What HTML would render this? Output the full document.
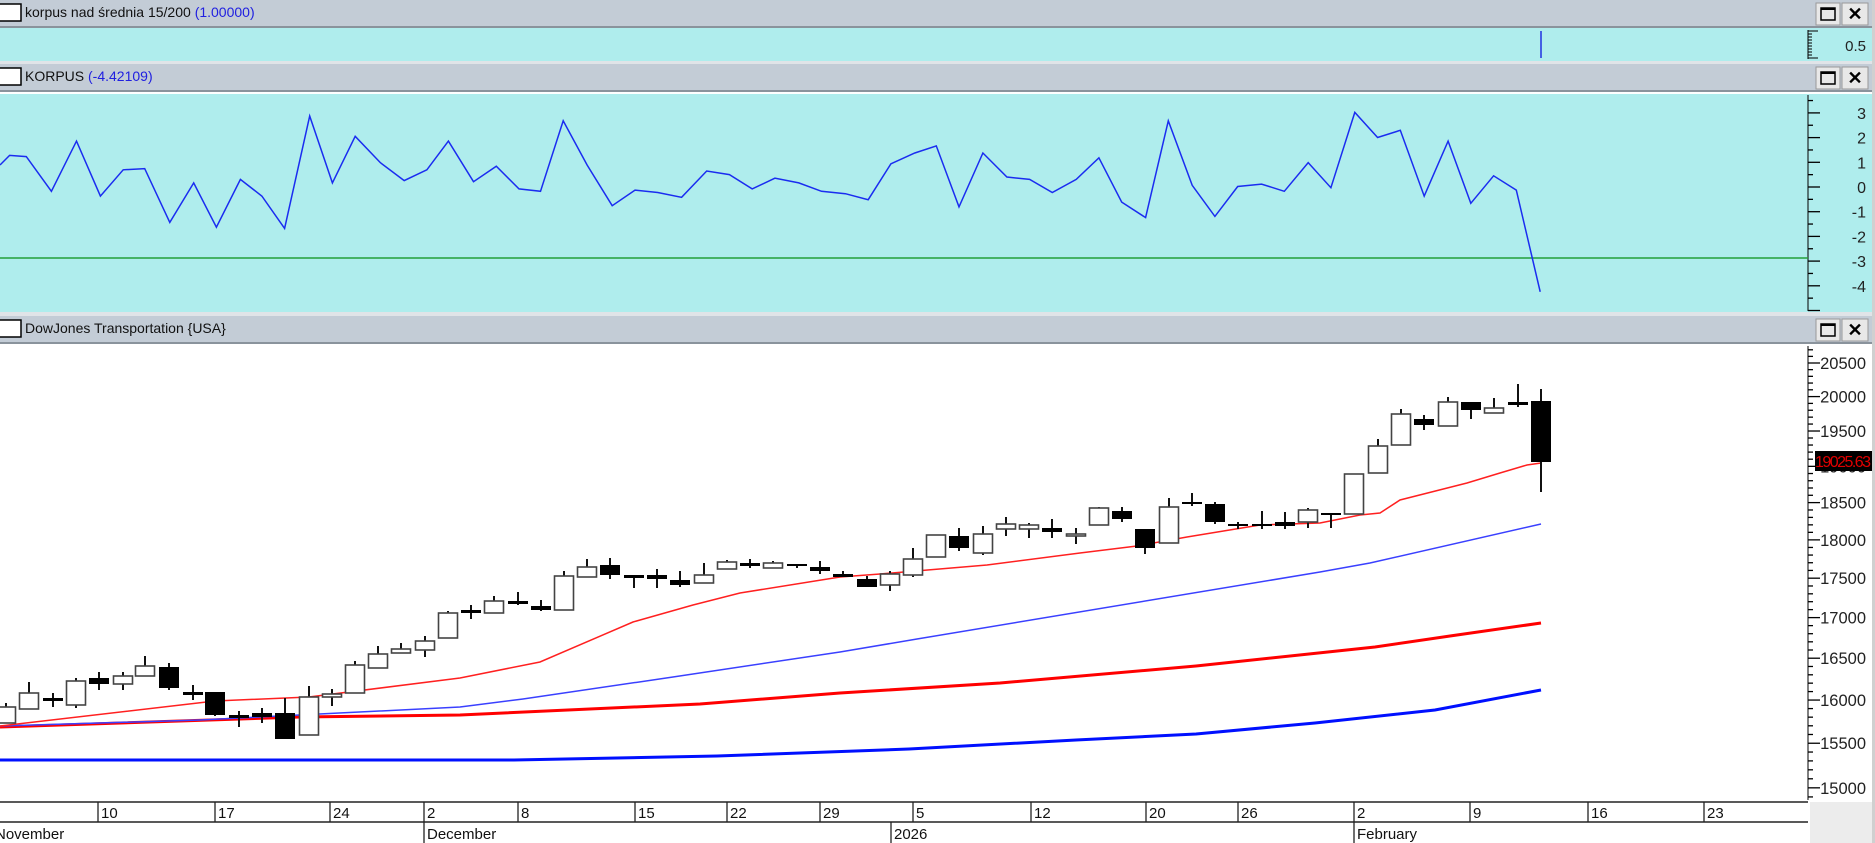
<!DOCTYPE html>
<html><head><meta charset="utf-8">
<style>
html,body{margin:0;padding:0;background:#fff;}
svg{display:block;font-family:"Liberation Sans",sans-serif;}
</style></head>
<body>
<svg id="s" width="1875" height="843" xmlns="http://www.w3.org/2000/svg"></svg>
<script>
const s=document.getElementById('s');let h='';
const C='#afeded',HB='#c3ccd6';
// headers
function header(y,title,val){
 h+=`<rect x="0" y="${y}" width="1875" height="28" fill="${HB}"/>`;
 h+=`<line x1="0" y1="${y+27}" x2="1875" y2="${y+27}" stroke="#8a939c" stroke-width="2"/>`;
 h+=`<rect x="-2" y="${y+4}" width="23" height="17" fill="#fff" stroke="#000" stroke-width="1.5"/>`;
 h+=`<text x="25" y="${y+17}" font-size="14" fill="#111">${title}<tspan fill="#2020e0">${val}</tspan></text>`;
 h+=`<rect x="1816" y="${y+3}" width="24" height="22" fill="#e8e8e8" stroke="#999"/><rect x="1821" y="${y+8}" width="14" height="12" fill="none" stroke="#000" stroke-width="1.5"/><line x1="1821" y1="${y+9}" x2="1835" y2="${y+9}" stroke="#000" stroke-width="2"/>`;
 h+=`<rect x="1842" y="${y+3}" width="26" height="22" fill="#e8e8e8" stroke="#999"/><text x="1855" y="${y+20}" font-size="18" font-weight="bold" text-anchor="middle">✕</text>`;
}
header(0,'korpus nad średnia 15/200 ',' (1.00000)');
h+=`<rect x="0" y="28" width="1872" height="33" fill="${C}"/>`;
h+=`<rect x="0" y="61" width="1875" height="3" fill="#e0e4e8"/>`;
header(64,'KORPUS ',' (-4.42109)');
h+=`<rect x="0" y="94" width="1872" height="218" fill="${C}"/>`;
h+=`<rect x="0" y="312" width="1875" height="4" fill="#e0e4e8"/>`;
header(316,'DowJones Transportation {USA}','');
h+=`<rect x="1872" y="0" width="3" height="843" fill="#d0d0d0"/>`;
// panel1
h+=`<line x1="1808" y1="30" x2="1808" y2="59" stroke="#000"/>`;
for(let y=31;y<=58;y+=3)h+=`<line x1="1808" y1="${y}" x2="${y==31||y==58?1818:1812}" y2="${y}" stroke="#000"/>`;
h+=`<text x="1866" y="51" font-size="15" text-anchor="end" fill="#222">0.5</text>`;
h+=`<line x1="1541" y1="31" x2="1541" y2="58" stroke="#2030e0" stroke-width="1.5"/>`;
// panel2 axis
h+=`<line x1="1808" y1="95" x2="1808" y2="311" stroke="#000"/>`;
for(let v=4;v>=-5;v-=0.5){const y=187-v*24.7;if(y<96||y>311)continue;const maj=Number.isInteger(v);h+=`<line x1="1808" y1="${y}" x2="${maj?1820:1813}" y2="${y}" stroke="#000" stroke-width="1.3"/>`;if(maj&&v<=3&&v>=-4)h+=`<text x="1866" y="${y+6}" font-size="16" text-anchor="end" fill="#222">${v}</text>`;}
h+=`<line x1="0" y1="258" x2="1808" y2="258" stroke="#22a03a" stroke-width="1.5"/>`;
const kd=[[0,138],[8,130],[22,131],[43,160],[64,118],[84,164],[103,142],[121,141],[142,186],[162,153],[181,190],[201,150],[219,164],[238,191],[259,97],[278,153],[297,114],[318,136],[338,151],[357,142],[375,118],[396,152],[415,139],[434,158],[452,160],[471,101],[491,138],[512,172],[531,159],[550,161],[570,165],[591,143],[610,146],[629,158],[648,149],[668,153],[687,160],[707,162],[726,167],[745,137],[765,128],[783,122],[802,173],[822,128],[842,148],[861,150],[880,161],[900,150],[919,132],[938,169],[958,182],[977,101],[997,155],[1016,181],[1035,156],[1055,154],[1074,160],[1094,136],[1113,157],[1133,94],[1152,115],[1171,109],[1191,164],[1211,118],[1230,170],[1249,147],[1268,159],[1288,244]];
h+=`<polyline fill="none" stroke="#1a2cf0" stroke-width="1.5" points="${kd.map(p=>(p[0]*1.1958).toFixed(1)+','+(p[1]*1.1957).toFixed(1)).join(' ')}"/>`;
// price axis
const py=p=>363+1360*Math.log(20500/p);
h+=`<line x1="1808" y1="346" x2="1808" y2="800" stroke="#000"/>`;
for(let p=14900;p<=20700;p+=100){const y=py(p);if(y<347||y>799)continue;const maj=p%500==0;h+=`<line x1="1808" y1="${y}" x2="${maj?1820:1813}" y2="${y}" stroke="#000" stroke-width="1.3"/>`;if(maj)h+=`<text x="1866" y="${y+6}" font-size="16.5" text-anchor="end" fill="#222">${p}</text>`;}
// MAs
const pl=(pts,c,w)=>h+=`<polyline fill="none" stroke="${c}" stroke-width="${w}" points="${pts.map(p=>p.join(',')).join(' ')}"/>`;
pl([[0,760],[144,760],[514,760],[717,756],[909,749],[1076,740],[1196,734],[1315,723],[1435,710],[1541,690]],'#0010ff',3);
pl([[0,727],[300,717],[460,715],[700,704],[840,693],[1000,683],[1196,666],[1375,647],[1450,636],[1541,623]],'#ff0000',3);
pl([[0,726],[200,720],[460,707],[523,699],[673,677],[840,652],[917,639],[1320,572],[1370,563],[1541,524]],'#3a40ff',1.5);
pl([[0,726],[215,701],[309,697],[460,678],[540,662],[633,622],[693,605],[740,593],[840,577],[880,574],[987,565],[1080,553],[1137,546],[1187,537],[1260,525],[1320,523],[1360,515],[1380,513],[1400,500],[1467,483],[1500,473],[1527,465],[1541,463]],'#ff2020',1.5);
// candles [x,wt,wb,bt,bb,filled]
const cd=[[6,703,723,707,723,0],[29,682,709,693,709,0],[53,693,707,698,701,1],[76,678,708,681,705,0],[99,672,690,678,684,1],[123,672,690,676,684,0],[145,656,676,666,676,0],[169,663,690,667,688,1],[193,685,700,692,695,1],[215,692,716,692,715,1],[239,711,727,715,718,1],[262,708,723,713,717,1],[285,698,739,713,739,1],[309,686,735,697,735,0],[332,689,706,694,697,0],[355,661,693,665,693,0],[378,646,668,654,668,0],[401,643,653,649,653,0],[425,636,657,641,650,0],[448,611,638,613,638,0],[471,605,619,610,613,1],[494,596,613,601,613,0],[518,592,605,601,604,1],[541,600,611,606,610,1],[564,571,610,576,610,0],[587,559,577,567,577,0],[610,558,579,565,575,1],[634,575,588,575,578,1],[657,569,588,575,579,1],[680,571,587,580,585,1],[704,563,583,575,583,0],[727,560,569,562,569,0],[750,559,568,563,566,1],[773,561,568,563,568,0],[797,564,568,564,566,1],[820,561,574,567,571,1],[843,571,577,574,577,1],[867,576,587,579,587,1],[890,571,591,574,585,0],[913,548,577,559,575,0],[936,535,557,535,557,0],[959,528,551,536,548,1],[983,526,555,534,553,0],[1006,517,536,524,529,0],[1029,523,538,525,529,0],[1052,519,538,528,532,1],[1076,528,544,534,536,0],[1099,507,525,508,525,0],[1122,507,522,511,519,1],[1145,529,554,529,548,1],[1169,498,543,507,543,0],[1192,493,506,502,504,1],[1215,502,524,504,522,1],[1238,522,529,524,526,1],[1262,511,529,524,526,1],[1285,512,529,522,526,1],[1308,508,528,510,522,0],[1331,513,528,513,515,1],[1354,474,514,474,514,0],[1378,439,473,446,473,0],[1401,409,445,414,445,0],[1424,415,430,419,425,1],[1448,397,426,402,426,0],[1471,402,419,402,410,1],[1494,398,413,408,413,0],[1518,384,407,402,405,1],[1541,389,492,401,462,1]];
for(const c of cd){const[x,wt,wb,bt,bb,f]=c;h+=`<line x1="${x}" y1="${wt}" x2="${x}" y2="${wb}" stroke="#111" stroke-width="2"/>`;const hh=Math.max(bb-bt,2);h+=f?`<rect x="${x-10}" y="${bt}" width="20" height="${hh}" fill="#000"/>`:`<rect x="${x-9.5}" y="${bt}" width="19" height="${hh}" fill="#fff" stroke="#444" stroke-width="1.6"/>`;}
// last price label
h+=`<rect x="1815" y="451" width="57" height="20" fill="#000"/><text x="1843" y="467" font-size="16" text-anchor="middle" fill="#e00000" textLength="56">19025.63</text>`;
// date axis
h+=`<rect x="1810" y="802" width="62" height="41" fill="#ececec"/>`;
h+=`<line x1="0" y1="802" x2="1808" y2="802" stroke="#222" stroke-width="1.5"/><line x1="0" y1="822" x2="1808" y2="822" stroke="#222" stroke-width="1.5"/>`;
const tk=[[98,'10'],[215,'17'],[330,'24'],[424,'2'],[518,'8'],[635,'15'],[727,'22'],[820,'29'],[913,'5'],[1031,'12'],[1146,'20'],[1238,'26'],[1354,'2'],[1470,'9'],[1588,'16'],[1704,'23']];
for(const[t,l]of tk){h+=`<line x1="${t}" y1="802" x2="${t}" y2="822" stroke="#222" stroke-width="1.3"/><text x="${t+3}" y="818" font-size="15" fill="#111">${l}</text>`;}
const mo=[[-8,'November'],[424,'December'],[891,'2026'],[1354,'February']];
for(const[t,l]of mo){h+=`<line x1="${t}" y1="822" x2="${t}" y2="843" stroke="#222" stroke-width="1.3"/><text x="${t+3}" y="839" font-size="15" fill="#111">${l}</text>`;}
s.innerHTML=h;
</script>
</body></html>
